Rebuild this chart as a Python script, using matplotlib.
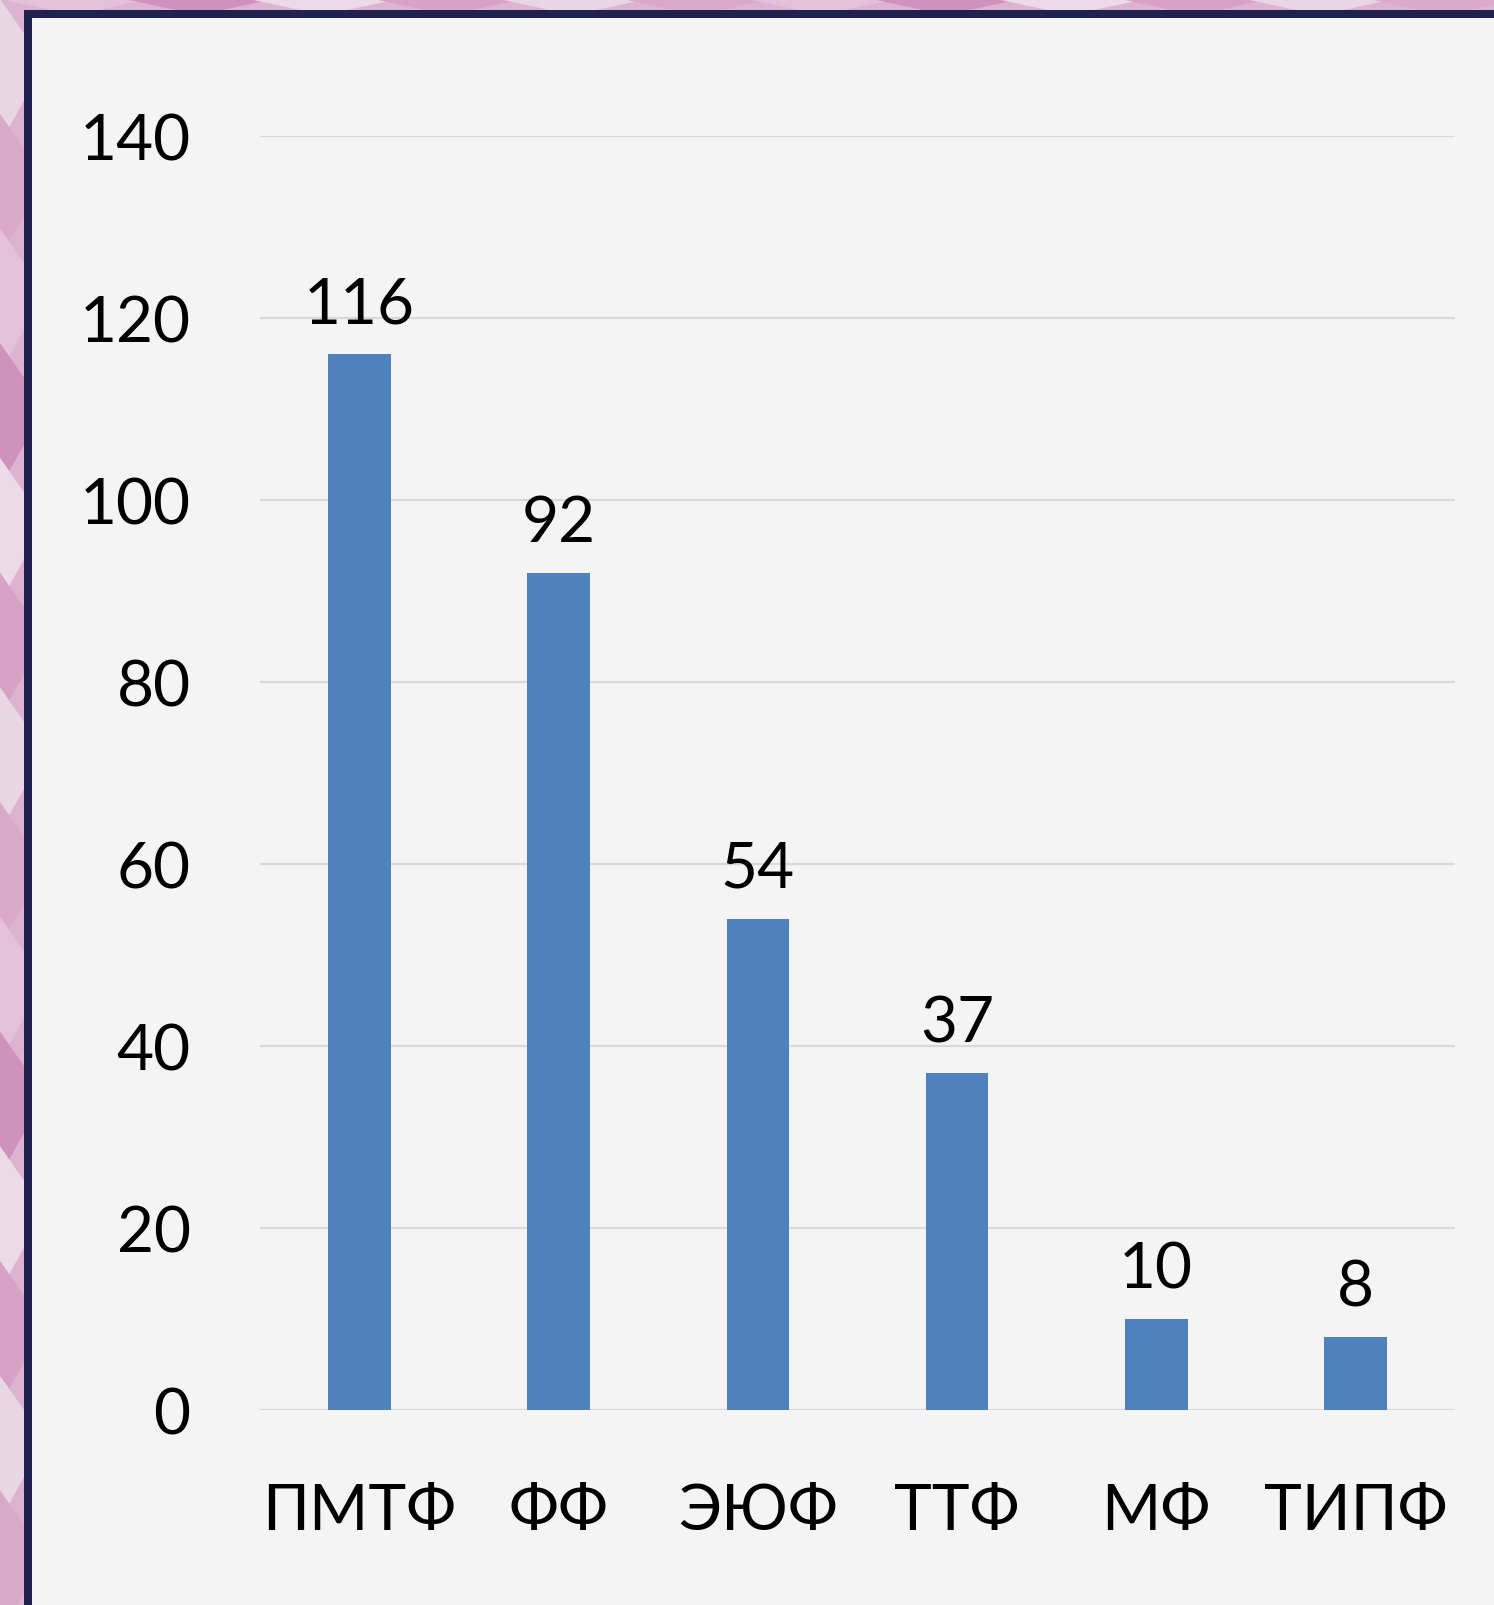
import matplotlib.pyplot as plt
from matplotlib.patches import Rectangle, Polygon

plt.rcParams['font.family'] = ['Lato', 'DejaVu Sans']

categories = ['ПМТФ', 'ФФ', 'ЭЮФ', 'ТТФ', 'МФ', 'ТИПФ']
values = [116, 92, 54, 37, 10, 8]
yticks = [0, 20, 40, 60, 80, 100, 120, 140]

W, H = 1494, 1606
fig = plt.figure(figsize=(W / 100, H / 100), dpi=100, facecolor='#dcb3d0')

# pink mosaic-ish backdrop behind the panel
shades = ['#e9d6e3', '#d9a9c9', '#e3c1d8', '#cf92bd', '#ecdbe7', '#d7a2c6']
for i in range(14):
    y0 = 1 - i / 14
    fig.patches.append(Polygon([(0, y0), (0.03, y0 - 0.04), (0, y0 - 0.09)],
                               closed=True, transform=fig.transFigure, zorder=-5,
                               facecolor=shades[i % len(shades)], edgecolor='none'))
for i in range(12):
    x0 = i / 12
    fig.patches.append(Polygon([(x0, 1), (x0 + 0.05, 0.99), (x0 + 0.1, 1)],
                               closed=True, transform=fig.transFigure, zorder=-5,
                               facecolor=shades[(i + 2) % len(shades)], edgecolor='none'))

# navy frame + light panel
fig.patches.append(Rectangle((24 / W, 0), 1 - 24 / W, 1 - 11 / H, zorder=-4,
                             transform=fig.transFigure, facecolor='#20214f', edgecolor='none'))
fig.patches.append(Rectangle((32 / W, 0), 1 - 32 / W, 1 - 19 / H, zorder=-3,
                             transform=fig.transFigure, facecolor='#f4f4f4', edgecolor='none'))

ax = fig.add_axes([260 / W, (H - 1411) / H, 1195 / W, 1274 / H])
ax.set_facecolor('none')
x = range(len(categories))
bars = ax.bar(x, values, width=0.315, color='#4f81bd', zorder=3)
ax.set_ylim(0, 140)
ax.set_xlim(-0.5, len(categories) - 0.5)
ax.set_yticks(yticks)
ax.set_xticks(list(x))
ax.set_xticklabels(categories)
ax.grid(axis='y', color='#d9d9d9', linewidth=1.6, zorder=0)
ax.tick_params(axis='both', length=0, labelsize=46, colors='black')
ax.tick_params(axis='y', pad=50)
ax.tick_params(axis='x', pad=52)
for s in ax.spines.values():
    s.set_visible(False)
ax.bar_label(bars, labels=[str(v) for v in values], padding=15, fontsize=46)

fig.savefig('out.png', dpi=100, facecolor=fig.get_facecolor())
